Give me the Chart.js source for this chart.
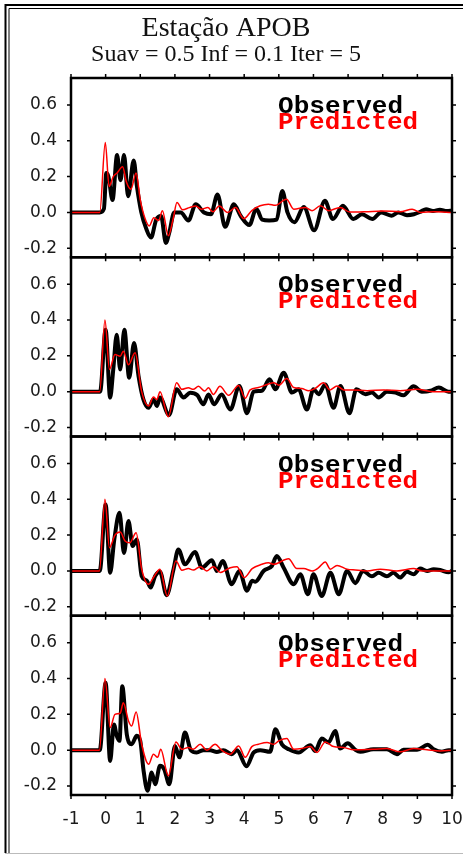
<!DOCTYPE html>
<html>
<head>
<meta charset="utf-8">
<title>Estação APOB</title>
<script src="https://cdn.jsdelivr.net/npm/chart.js@4.4.1/dist/chart.umd.min.js"></script>
<style>
  html, body { margin: 0; padding: 0; background: #fff; }
  #wrap { position: relative; width: 463px; height: 855px; }
</style>
</head>
<body>
<div id="wrap"><canvas id="myChart" width="463" height="855"></canvas></div>
<script>
// time axis (s) and amplitude ticks
const xTicks = [-1, 0, 1, 2, 3, 4, 5, 6, 7, 8, 9, 10];
const yTicks = [-0.2, 0.0, 0.2, 0.4, 0.6];

// panel 1
const obs1T = [-1, -0.17, -0.05, 0.02, 0.08, 0.2, 0.33, 0.43, 0.53, 0.65, 0.81, 0.9, 1.03, 1.17, 1.31, 1.46, 1.6, 1.74, 1.84, 1.98, 2.17, 2.39, 2.6, 2.84, 3.04, 3.23, 3.45, 3.7, 3.9, 4.15, 4.35, 4.52, 4.72, 4.94, 5.1, 5.25, 5.45, 5.72, 6.02, 6.33, 6.56, 6.85, 7.15, 7.4, 7.7, 7.95, 8.25, 8.45, 8.7, 8.9, 9.1, 9.25, 9.45, 9.65, 9.85, 10];
const obs1V = [0, 0, 0.02, 0.22, 0.2, 0.07, 0.32, 0.18, 0.32, 0.09, 0.29, 0.15, 0, -0.09, -0.14, -0.04, -0.02, -0.17, -0.11, 0, 0, -0.045, 0.045, 0, -0.01, 0.1, -0.08, 0.045, -0.02, -0.07, 0.02, -0.04, -0.045, -0.04, 0.12, 0, -0.055, 0.03, -0.1, 0.065, -0.037, 0.037, -0.037, -0.01, -0.037, 0, -0.018, 0, -0.015, -0.01, 0.005, 0.018, 0.008, 0.015, 0.008, 0.01];
const pred1T = [-1, -0.17, -0.01, 0.1, 0.22, 0.33, 0.49, 0.6, 0.73, 0.88, 1.0, 1.14, 1.26, 1.39, 1.53, 1.64, 1.81, 1.95, 2.06, 2.22, 2.42, 2.6, 2.76, 2.95, 3.1, 3.28, 3.52, 3.75, 3.99, 4.22, 4.46, 4.7, 4.9, 5.22, 5.43, 5.77, 5.96, 6.2, 6.44, 6.77, 7.05, 7.5, 8.0, 8.5, 8.85, 9.1, 9.5, 10];
const pred1V = [0, 0, 0.39, 0.145, 0.2, 0.22, 0.255, 0.17, 0.13, 0.22, 0.07, -0.035, -0.075, -0.03, -0.045, 0.01, -0.13, -0.035, 0.055, 0.015, 0.027, 0.036, 0.018, 0.027, 0.004, 0.036, 0, 0.027, -0.035, 0.01, 0.037, 0.046, 0.04, 0.074, 0.018, 0.028, 0.01, 0.037, 0.01, 0.028, 0.002, 0.004, 0.008, 0.004, 0.018, 0, 0.004, 0];

// panel 2
const obs2T = [-1, -0.16, 0.0, 0.13, 0.22, 0.32, 0.42, 0.54, 0.68, 0.82, 0.95, 1.09, 1.24, 1.38, 1.48, 1.57, 1.83, 2.05, 2.25, 2.44, 2.65, 2.82, 2.97, 3.13, 3.35, 3.6, 3.86, 4.08, 4.27, 4.51, 4.73, 4.9, 5.14, 5.38, 5.57, 5.81, 6.0, 6.15, 6.34, 6.58, 6.78, 7.04, 7.24, 7.5, 7.69, 7.88, 8.12, 8.37, 8.6, 8.89, 9.13, 9.38, 9.62, 9.9, 10];
const obs2V = [0, 0, 0.346, -0.033, 0.124, 0.318, 0.124, 0.346, 0.078, 0.272, 0.087, -0.043, -0.09, -0.043, -0.08, -0.033, -0.13, 0.013, -0.033, -0.006, -0.02, -0.07, -0.015, -0.07, -0.015, -0.1, 0.032, -0.12, 0, 0.005, 0.07, 0.014, 0.106, -0.005, 0.014, -0.1, 0.014, -0.014, 0.04, -0.09, 0.032, -0.12, 0.014, -0.014, -0.005, -0.032, 0, -0.005, -0.02, 0.03, 0, 0.005, 0.023, 0, 0];
const pred2T = [-1, -0.17, -0.02, 0.11, 0.27, 0.42, 0.51, 0.66, 0.85, 1.04, 1.24, 1.38, 1.48, 1.57, 1.81, 2.05, 2.2, 2.39, 2.53, 2.68, 2.86, 2.97, 3.11, 3.3, 3.55, 3.84, 4.03, 4.17, 4.41, 4.66, 4.85, 5.0, 5.23, 5.43, 5.66, 5.86, 6.05, 6.29, 6.48, 6.68, 6.87, 7.16, 7.55, 8.03, 8.5, 8.99, 9.47, 10];
const pred2V = [0, 0, 0.40, 0.124, 0.207, 0.198, 0.226, 0.15, 0.217, 0, -0.08, -0.03, -0.043, 0, -0.14, 0.05, 0.013, 0.022, 0.013, 0.03, 0.004, 0.022, -0.015, 0.03, -0.02, 0.035, -0.037, 0.01, 0.023, 0.04, 0.05, 0.036, 0.073, 0.023, 0.018, 0.005, 0.018, 0.05, 0.01, 0.032, 0.01, 0.01, 0.005, 0.01, 0.005, 0.014, 0, 0];

// panel 3
const obs3T = [-1, -0.17, 0.0, 0.13, 0.25, 0.4, 0.53, 0.66, 0.78, 0.9, 1.04, 1.19, 1.3, 1.43, 1.57, 1.76, 1.96, 2.1, 2.29, 2.58, 2.78, 3.07, 3.21, 3.38, 3.64, 3.86, 4.08, 4.23, 4.32, 4.56, 4.8, 4.94, 5.14, 5.43, 5.62, 5.84, 6.0, 6.24, 6.49, 6.73, 6.97, 7.21, 7.43, 7.69, 7.88, 8.12, 8.31, 8.5, 8.7, 8.89, 9.08, 9.28, 9.47, 9.66, 9.9, 10];
const obs3V = [0, 0, 0.37, -0.01, 0.176, 0.324, 0.1, 0.278, 0.139, 0.176, -0.028, -0.055, -0.093, -0.028, -0.005, -0.135, 0.01, 0.12, 0.037, 0.105, 0.018, 0.06, 0, 0.055, -0.074, 0.0, -0.11, -0.055, -0.06, 0, 0.028, 0.083, 0.018, -0.074, -0.018, -0.13, -0.018, -0.14, -0.01, -0.13, 0, -0.068, 0, -0.03, -0.01, -0.03, -0.01, -0.037, -0.005, -0.018, 0.013, 0, 0.01, 0.005, -0.008, 0];
const pred3T = [-1, -0.18, -0.02, 0.11, 0.27, 0.42, 0.56, 0.7, 0.88, 1.04, 1.24, 1.38, 1.57, 1.78, 2.03, 2.2, 2.39, 2.53, 2.73, 2.92, 3.11, 3.31, 3.6, 3.79, 4.0, 4.23, 4.51, 4.7, 4.85, 5.28, 5.52, 5.72, 5.96, 6.15, 6.34, 6.49, 6.68, 6.97, 7.21, 7.55, 7.93, 8.41, 8.89, 9.13, 10];
const pred3V = [0, 0, 0.40, 0.13, 0.2, 0.217, 0.167, 0.157, 0.213, 0.01, -0.074, -0.037, 0.01, -0.14, 0.055, 0.004, 0.013, 0.005, 0.024, 0, 0.024, -0.009, 0.018, 0.024, -0.037, 0.013, 0.037, 0.046, 0.037, 0.068, 0.013, 0.013, 0, 0.018, 0.05, 0.01, 0.031, 0.01, 0.005, 0, 0.01, 0, 0.013, 0, 0];

// panel 4
const obs4T = [-1, -0.17, 0.0, 0.13, 0.24, 0.32, 0.4, 0.48, 0.61, 0.75, 0.9, 1.0, 1.09, 1.21, 1.33, 1.43, 1.57, 1.69, 1.84, 2.0, 2.13, 2.29, 2.46, 2.63, 2.82, 3.02, 3.21, 3.4, 3.64, 3.79, 4.07, 4.27, 4.46, 4.75, 4.9, 5.09, 5.29, 5.57, 5.91, 6.05, 6.24, 6.43, 6.63, 6.77, 6.99, 7.21, 7.35, 7.73, 8.12, 8.41, 8.6, 8.99, 9.3, 9.47, 9.71, 9.9, 10];
const obs4V = [0, 0, 0.376, -0.06, 0.144, 0.08, 0.052, 0.357, 0.089, 0.033, 0.08, 0.052, -0.106, -0.226, -0.124, -0.19, -0.087, -0.106, -0.19, 0.024, -0.04, 0.098, 0, -0.013, 0, 0, -0.01, 0, -0.022, 0, -0.09, -0.013, 0, -0.009, 0.117, 0.033, 0.005, -0.013, 0.028, -0.004, 0.065, 0.043, 0.107, 0.009, 0.039, 0.002, -0.009, 0.005, 0.005, -0.022, 0.002, 0.002, 0.03, 0.005, -0.009, 0, 0];
const pred4T = [-1, -0.18, -0.02, 0.13, 0.27, 0.42, 0.51, 0.66, 0.75, 0.88, 1.04, 1.24, 1.38, 1.5, 1.59, 1.81, 2.03, 2.2, 2.39, 2.53, 2.73, 2.92, 3.16, 3.35, 3.6, 3.84, 4.03, 4.22, 4.41, 4.66, 4.85, 5.0, 5.23, 5.43, 5.66, 5.91, 6.1, 6.34, 6.58, 6.87, 7.16, 7.73, 8.12, 8.5, 8.89, 9.28, 9.66, 10];
const pred4V = [0, 0, 0.40, 0.126, 0.2, 0.206, 0.265, 0.163, 0.135, 0.213, 0.033, -0.078, -0.022, -0.04, 0.005, -0.143, 0.046, 0.005, 0.015, 0.005, 0.033, 0, 0.033, 0, -0.022, 0.024, -0.04, 0.02, 0.033, 0.043, 0.033, 0.052, 0.065, 0.005, 0.009, 0.02, -0.013, 0.046, 0.02, 0.015, 0.002, 0.005, 0.009, -0.009, 0.009, 0.002, -0.004, 0];

const panels = [
  {id: 'p1', obsT: obs1T, obsV: obs1V, predT: pred1T, predV: pred1V},
  {id: 'p2', obsT: obs2T, obsV: obs2V, predT: pred2T, predV: pred2V},
  {id: 'p3', obsT: obs3T, obsV: obs3V, predT: pred3T, predV: pred3V},
  {id: 'p4', obsT: obs4T, obsV: obs4V, predT: pred4T, predV: pred4V}
];

const toPoints = (ts, vs) => ts.map((t, i) => ({x: t, y: vs[i]}));

const datasets = [];
panels.forEach(p => {
  datasets.push({
    label: 'Observed', yAxisID: p.id, data: toPoints(p.obsT, p.obsV),
    borderColor: '#000', borderWidth: 4, order: 2
  });
  datasets.push({
    label: 'Predicted', yAxisID: p.id, data: toPoints(p.predT, p.predV),
    borderColor: '#ff0000', borderWidth: 1.5, order: 1
  });
});

const tickFont = {family: 'DejaVu Sans', size: 17};

const scales = {
  x: {
    type: 'linear', min: -1, max: 10,
    grid: {display: false, drawTicks: false},
    border: {display: false},
    ticks: {stepSize: 1, padding: 14, color: '#1a1a1a', font: tickFont},
    afterFit(s) { s.height = 60; s.paddingLeft = 0; s.paddingRight = 0; }
  }
};
// left-hand stacked axes are laid out last-first, so add them bottom panel first
panels.slice().reverse().forEach(p => {
  scales[p.id] = {
    type: 'linear', position: 'left', stack: 'panels', stackWeight: 1,
    min: -0.25, max: 0.75,
    grid: {display: false, drawTicks: false},
    border: {display: false},
    ticks: {padding: 14, color: '#1a1a1a', font: tickFont, callback: v => v.toFixed(1)},
    afterBuildTicks(s) { s.ticks = yTicks.map(v => ({value: v})); },
    afterFit(s) { s.width = 71; }
  };
});

// frames, tick marks, per-panel legend text, heading and page border
const panelFrames = {
  id: 'panelFrames',
  beforeDraw(chart) {
    const {ctx, width} = chart;
    ctx.save();
    ctx.fillStyle = '#fff';
    ctx.fillRect(0, 0, width, chart.height);
    ctx.strokeStyle = '#000';
    ctx.lineWidth = 2;
    ctx.beginPath();
    ctx.moveTo(width, 5); ctx.lineTo(5.5, 5); ctx.lineTo(5.5, 853);
    ctx.stroke();
    ctx.lineWidth = 1;
    ctx.beginPath();
    ctx.moveTo(width, 8.5); ctx.lineTo(9, 8.5); ctx.lineTo(9, 853);
    ctx.stroke();
    ctx.strokeStyle = '#bbb';
    ctx.beginPath();
    ctx.moveTo(5, 853.5); ctx.lineTo(width, 853.5);
    ctx.stroke();

    ctx.fillStyle = '#111';
    ctx.textAlign = 'center';
    ctx.textBaseline = 'alphabetic';
    ctx.font = '28px "Liberation Serif"';
    ctx.fillText('Estação APOB', 226, 36);
    ctx.font = '24px "Liberation Serif"';
    ctx.fillText('Suav = 0.5 Inf = 0.1 Iter = 5', 226, 61);
    ctx.restore();
  },
  afterDatasetsDraw(chart) {
    const {ctx, chartArea: a, scales: sc} = chart;
    const xs = sc.x;
    ctx.save();
    ctx.strokeStyle = '#000';
    panels.forEach(p => {
      const s = sc[p.id];
      ctx.lineWidth = 2.5;
      ctx.strokeRect(a.left, s.top, a.right - a.left, s.bottom - s.top);
      ctx.lineWidth = 1.5;
      ctx.beginPath();
      xTicks.forEach(v => {
        const px = xs.getPixelForValue(v);
        ctx.moveTo(px, s.top); ctx.lineTo(px, s.top - 4);
        ctx.moveTo(px, s.bottom); ctx.lineTo(px, s.bottom + 4);
      });
      yTicks.forEach(v => {
        const py = s.getPixelForValue(v);
        ctx.moveTo(a.left, py); ctx.lineTo(a.left - 4, py);
        ctx.moveTo(a.right, py); ctx.lineTo(a.right + 4, py);
      });
      ctx.stroke();

      ctx.font = 'bold 23px "Liberation Mono"';
      ctx.textAlign = 'left';
      [['Observed', '#000', 35, 125], ['Predicted', '#ff0000', 51, 140]].forEach(([txt, col, dy, w]) => {
        const sx = w / ctx.measureText(txt).width;
        ctx.save();
        ctx.translate(278, s.top + dy);
        ctx.scale(sx, 1);
        ctx.fillStyle = col;
        ctx.fillText(txt, 0, 0);
        ctx.restore();
      });
    });
    ctx.restore();
  }
};

const mychart = document.getElementById('myChart').getContext('2d');
const chart = new Chart(mychart, {
  type: 'line',
  data: {datasets: datasets},
  options: {
    responsive: false,
    animation: false,
    layout: {padding: {top: 78, right: 11, left: 0, bottom: 0}},
    elements: {
      point: {radius: 0},
      line: {cubicInterpolationMode: 'monotone', borderCapStyle: 'round', borderJoinStyle: 'round'}
    },
    plugins: {legend: {display: false}, title: {display: false}, tooltip: {enabled: false}},
    scales: scales
  },
  plugins: [panelFrames]
});
</script>
</body>
</html>
